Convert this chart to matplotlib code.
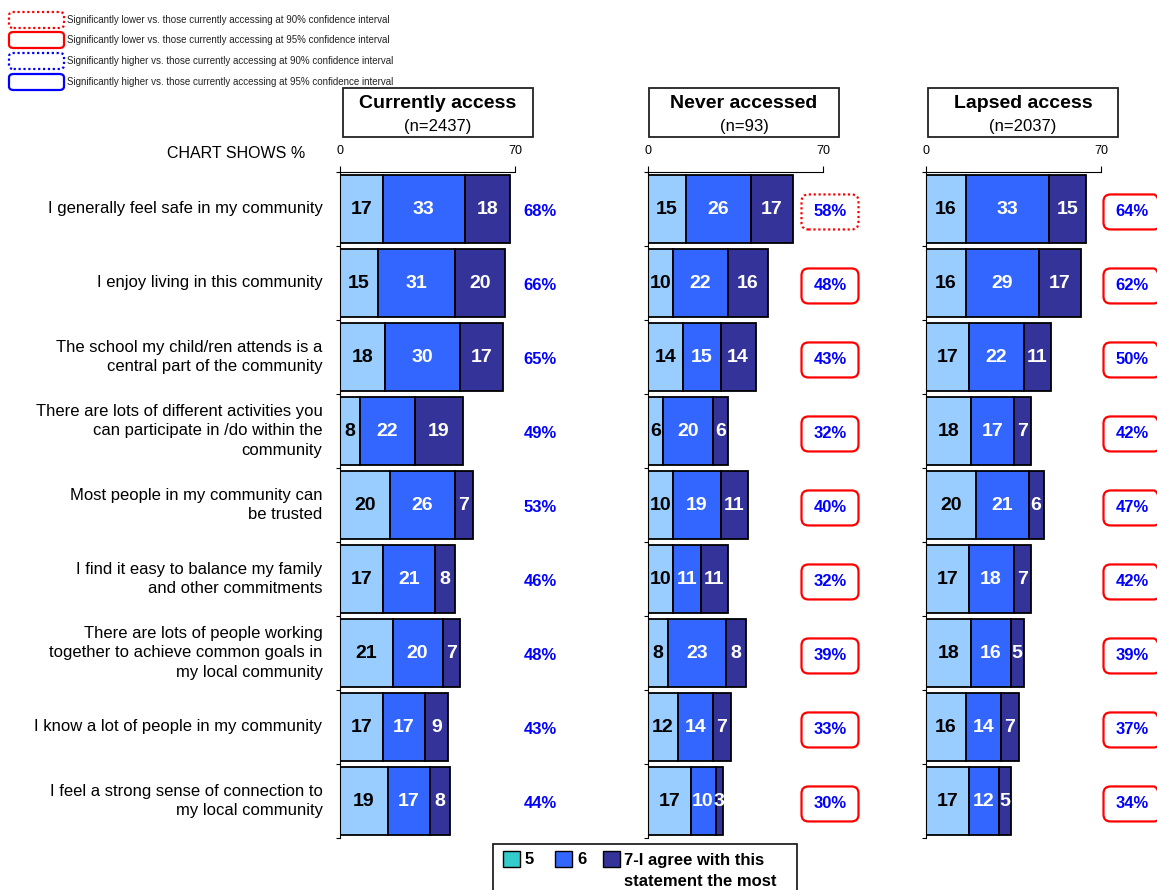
#Stacked agreement bars by access group, with significance boxes

import matplotlib.pyplot as plt
import numpy as np
from matplotlib.patches import Rectangle, FancyBboxPatch
from matplotlib.transforms import ScaledTranslation

plt.rcParams['font.family'] = ['Liberation Sans', 'DejaVu Sans']

statements = ['I generally feel safe in my community',
              'I enjoy living in this community',
              'The school my child/ren attends is a\ncentral part of the community',
              'There are lots of different activities you\ncan participate in /do within the\ncommunity',
              'Most people in my community can\nbe trusted',
              'I find it easy to balance my family\nand other commitments',
              'There are lots of people working\ntogether to achieve common goals in\nmy local community',
              'I know a lot of people in my community',
              'I feel a strong sense of connection to\nmy local community']

groups = ['Currently access', 'Never accessed', 'Lapsed access']
group_n = ['(n=2437)', '(n=93)', '(n=2037)']

# score 5 / 6 / 7 per group
curr_5 = [17, 15, 18, 8, 20, 17, 21, 17, 19]
curr_6 = [33, 31, 30, 22, 26, 21, 20, 17, 17]
curr_7 = [18, 20, 17, 19, 7, 8, 7, 9, 8]
curr_tot = [68, 66, 65, 49, 53, 46, 48, 43, 44]

never_5 = [15, 10, 14, 6, 10, 10, 8, 12, 17]
never_6 = [26, 22, 15, 20, 19, 11, 23, 14, 10]
never_7 = [17, 16, 14, 6, 11, 11, 8, 7, 3]
never_tot = [58, 48, 43, 32, 40, 32, 39, 33, 30]

lapsed_5 = [16, 16, 17, 18, 20, 17, 18, 16, 17]
lapsed_6 = [33, 29, 22, 17, 21, 18, 16, 14, 12]
lapsed_7 = [15, 17, 11, 7, 6, 7, 5, 7, 5]
lapsed_tot = [64, 62, 50, 42, 47, 42, 39, 37, 34]

# significance vs currently accessing: '' none, 'lo90', 'lo95', 'hi90', 'hi95'
curr_sig = [''] * 9
never_sig = ['lo90'] + ['lo95'] * 8
lapsed_sig = ['lo95'] * 9

legend_sig = ['Significantly lower vs. those currently accessing at 90% confidence interval',
              'Significantly lower vs. those currently accessing at 95% confidence interval',
              'Significantly higher vs. those currently accessing at 90% confidence interval',
              'Significantly higher vs. those currently accessing at 95% confidence interval']
legend_sig_codes = ['lo90', 'lo95', 'hi90', 'hi95']

series_names = ['5', '6', '7-I agree with this\nstatement the most']

c5 = '#99CCFF'
c6 = '#3366FF'
c7 = '#333399'
pct_col = '#0000FF'

W, H = 1157, 890
fig = plt.figure(figsize=(W/100, H/100), dpi=100)

def fx(px):
    return px / W

def fy(py):
    return 1 - py / H

def sig_style(code):
    col = 'red' if code.startswith('lo') else 'blue'
    ls = (0, (1, 1.2)) if code.endswith('90') else '-'
    return col, ls

data = [(curr_5, curr_6, curr_7, curr_tot, curr_sig),
        (never_5, never_6, never_7, never_tot, never_sig),
        (lapsed_5, lapsed_6, lapsed_7, lapsed_tot, lapsed_sig)]
lefts = [340, 648, 926]
pct_off = [200, 182, 206]   # px from axis zero to % label
head_left = [343, 649, 928]

ax_top, ax_bot = 172, 838
ypos = np.arange(len(statements))

for k in range(3):
    s5, s6, s7, tot, sig = data[k]
    ax = fig.add_axes([fx(lefts[k]), fy(ax_bot), fx(175), (ax_bot - ax_top) / H])
    a5 = np.array(s5); a6 = np.array(s6); a7 = np.array(s7)
    ax.barh(ypos, a5, height=0.92, color=c5, edgecolor='black', linewidth=1.3)
    ax.barh(ypos, a6, left=a5, height=0.92, color=c6, edgecolor='black', linewidth=1.3)
    ax.barh(ypos, a7, left=a5 + a6, height=0.92, color=c7, edgecolor='black', linewidth=1.3)
    for i in range(len(ypos)):
        ax.text(a5[i] / 2, i, str(a5[i]), ha='center', va='center', fontsize=14, fontweight='bold', color='black')
        ax.text(a5[i] + a6[i] / 2, i, str(a6[i]), ha='center', va='center', fontsize=14, fontweight='bold', color='white')
        ax.text(a5[i] + a6[i] + a7[i] / 2, i, str(a7[i]), ha='center', va='center', fontsize=14, fontweight='bold', color='white')
        xp = pct_off[k] / 2.5
        ax.text(xp, i + 0.04, '%d%%' % tot[i], ha='center', va='center', fontsize=12, fontweight='bold', color=pct_col, clip_on=False)
        if sig[i]:
            col, ls = sig_style(sig[i])
            tr = fig.dpi_scale_trans + ScaledTranslation(xp, i + 0.04, ax.transData)
            ax.add_artist(FancyBboxPatch((-0.285, -0.175), 0.57, 0.35, boxstyle='round,pad=0,rounding_size=0.07',
                                         transform=tr, facecolor='none', edgecolor=col, linewidth=1.6, linestyle=ls, clip_on=False))
    ax.set_xlim(0, 70)
    ax.set_ylim(len(statements) - 0.5, -0.5)
    ax.xaxis.tick_top()
    ax.set_xticks([0, 70])
    ax.tick_params(axis='x', direction='out', length=4, pad=7, labelsize=9)
    ax.set_yticks(np.arange(len(statements) + 1) - 0.5)
    ax.set_yticklabels([])
    ax.tick_params(axis='y', direction='out', length=3)
    ax.spines['right'].set_visible(False)
    ax.spines['bottom'].set_visible(False)
    ax.patch.set_alpha(0)
    if k == 0:
        for i in range(len(statements)):
            ax.text(-0.10, i, statements[i], transform=ax.get_yaxis_transform(), ha='right', va='center',
                    fontsize=12, linespacing=1.35)

    # header box
    fig.add_artist(Rectangle((fx(head_left[k]), fy(137)), fx(190), 49 / H, transform=fig.transFigure,
                             facecolor='white', edgecolor='#222222', linewidth=1.3))
    fig.text(fx(head_left[k] + 95), fy(103), groups[k], ha='center', va='center', fontsize=14, fontweight='bold')
    fig.text(fx(head_left[k] + 95), fy(127), group_n[k], ha='center', va='center', fontsize=12)

fig.text(fx(305), fy(154), 'CHART SHOWS %', ha='right', va='center', fontsize=11.5)

# significance key (top left)
key_y = [20, 40, 61, 82]
for j in range(4):
    col, ls = sig_style(legend_sig_codes[j])
    fig.add_artist(FancyBboxPatch((fx(9), fy(key_y[j] + 8)), fx(55), 16 / H,
                                  boxstyle='round,pad=0,rounding_size=0.004', transform=fig.transFigure,
                                  facecolor='none', edgecolor=col, linewidth=1.6, linestyle=ls))
    fig.text(fx(67), fy(key_y[j]), legend_sig[j], ha='left', va='center', fontsize=7, color='#222222')

# series legend (bottom)
fig.add_artist(Rectangle((fx(493), fy(895)), fx(304), 51 / H, transform=fig.transFigure,
                         facecolor='white', edgecolor='#222222', linewidth=1.3))
leg_cols = ['#33CCCC', c6, c7]
leg_x = [503, 555, 603]
for j in range(3):
    fig.add_artist(Rectangle((fx(leg_x[j]), fy(867)), fx(17), 16 / H, transform=fig.transFigure,
                             facecolor=leg_cols[j], edgecolor='black', linewidth=1))
fig.text(fx(525), fy(859), series_names[0], ha='left', va='center', fontsize=12, fontweight='bold')
fig.text(fx(577), fy(859), series_names[1], ha='left', va='center', fontsize=12, fontweight='bold')
fig.text(fx(624), fy(871), series_names[2], ha='left', va='center', fontsize=12, fontweight='bold', linespacing=1.45)

plt.savefig('out.png', dpi=100)
